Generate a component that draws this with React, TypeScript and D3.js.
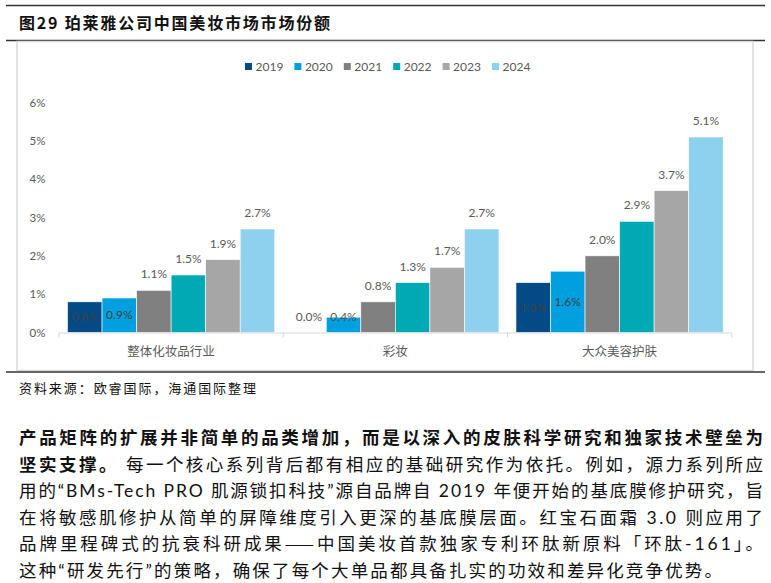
import React from 'react';
import * as d3 from 'd3';

const categories = ['整体化妆品行业', '彩妆', '大众美容护肤'];
const years = ['2019', '2020', '2021', '2022', '2023', '2024'];
const colors = ['#034a86', '#00a0e0', '#808080', '#00aab4', '#a6a6a6', '#8dd1ef'];
// share (%) per category, one array per year
const share2019 = [0.8, 0.0, 1.3];
const share2020 = [0.9, 0.4, 1.6];
const share2021 = [1.1, 0.8, 2.0];
const share2022 = [1.5, 1.3, 2.9];
const share2023 = [1.9, 1.7, 3.7];
const share2024 = [2.7, 2.7, 5.1];
const yTicks = [0, 1, 2, 3, 4, 5, 6];

const title = '图29 珀莱雅公司中国美妆市场市场份额';
const source = '资料来源：欧睿国际，海通国际整理';
const bodyLines = [
  [{ t: '产品矩阵的扩展并非简单的品类增加，而是以深入的皮肤科学研究和独家技术壁垒为', b: true }],
  [{ t: '坚实支撑。', b: true }, { t: ' 每一个核心系列背后都有相应的基础研究作为依托。例如，源力系列所应', b: false }],
  [{ t: '用的“BMs-Tech PRO 肌源锁扣科技”源自品牌自 2019 年便开始的基底膜修护研究，旨', b: false }],
  [{ t: '在将敏感肌修护从简单的屏障维度引入更深的基底膜层面。红宝石面霜 3.0 则应用了', b: false }],
  [
    { t: '品牌里程碑式的抗衰科研成果', b: false },
    { t: '——', b: false, c: true },
    { t: '中国美妆首款独家专利环肽新原料「环肽-161」。', b: false },
  ],
  [{ t: '这种“研发先行”的策略，确保了每个大单品都具备扎实的功效和差异化竞争优势。', b: false }],
];

const series = [share2019, share2020, share2021, share2022, share2023, share2024];

const W = 771;
const H = 583;
const latin = "Lato, 'Noto Sans CJK SC', sans-serif";
const cjk = "'Noto Sans CJK SC', sans-serif";

export default function App() {
  const x0 = d3.scaleBand<string>().domain(categories).range([59, 731.7]);
  const bw = x0.bandwidth();
  const x1 = d3.scaleBand<string>().domain(years).range([8.5, bw - 8.5]);
  const y = d3.scaleLinear().domain([0, 6]).range([332.5, 102.5]);

  return (
    <svg width={W} height={H} style={{ position: 'absolute', left: 0, top: 0, background: '#fff' }}>
      {/* header rules */}
      <line x1={6} x2={765} y1={5.5} y2={5.5} stroke="#333" strokeWidth={1.5} />
      <text x={19} y={29} fontFamily={cjk} fontWeight="bold" fontSize={16} fill="#111" textLength={311} lengthAdjust="spacing">
        {title}
      </text>
      <line x1={6} x2={765} y1={40.5} y2={40.5} stroke="#333" strokeWidth={1.5} />

      {/* chart frame */}
      <rect x={17} y={41.5} width={736} height={329} fill="#fff" stroke="#d9d9d9" strokeWidth={1.5} />

      {/* legend */}
      {years.map((yr, i) => (
        <g key={yr} transform={`translate(${245 + i * 49.4},0)`}>
          <rect x={0} y={63} width={7} height={7} fill={colors[i]} />
          <text x={10.5} y={71} fontFamily={latin} fontSize={12} fill="#595959">{yr}</text>
        </g>
      ))}

      {/* y axis labels */}
      {yTicks.map(t => (
        <text key={t} x={45.5} y={y(t) + 4} textAnchor="end" fontFamily={latin} fontSize={11.5} fill="#595959">
          {t}%
        </text>
      ))}

      {/* bars */}
      {categories.map((c, ci) => (
        <g key={c} transform={`translate(${x0(c)},0)`}>
          {series.map((s, si) => (
            <rect
              key={si}
              x={x1(years[si])}
              y={y(s[ci])}
              width={x1.bandwidth()}
              height={y(0) - y(s[ci])}
              fill={colors[si]}
              stroke="#fff"
              strokeWidth={0.6}
            />
          ))}
          {series.map((s, si) => {
            const inside = si < 2;
            const ly = inside ? y(Math.max(s[ci] / 2, 0.4)) + 4 : y(s[ci]) - 12;
            return (
              <text
                key={'l' + si}
                x={(x1(years[si]) as number) + x1.bandwidth() / 2}
                y={ly}
                textAnchor="middle"
                fontFamily={latin}
                fontSize={12}
                fill={inside && s[ci] > 0.5 ? '#404040' : '#595959'}
              >
                {s[ci].toFixed(1)}%
              </text>
            );
          })}
          <text x={bw / 2} y={355.5} textAnchor="middle" fontFamily={cjk} fontSize={12.5} fill="#595959">
            {c}
          </text>
        </g>
      ))}

      {/* x axis */}
      <line x1={59} x2={731.7} y1={y(0) + 0.5} y2={y(0) + 0.5} stroke="#d9d9d9" strokeWidth={1} />
      {[...categories.map(c => x0(c) as number), 731.7].map((t, i) => (
        <line key={i} x1={t} x2={t} y1={y(0)} y2={y(0) + 5} stroke="#d9d9d9" strokeWidth={1} />
      ))}

      {/* footer rule + source */}
      <line x1={6} x2={765} y1={372} y2={372} stroke="#333" strokeWidth={1.5} />
      <text x={19} y={392.5} fontFamily={cjk} fontSize={13} fill="#111" textLength={237} lengthAdjust="spacing">
        {source}
      </text>

      {/* body paragraph */}
      {bodyLines.map((line, li) => (
        <text
          key={li}
          x={19}
          y={444 + li * 26.6}
          fontFamily={latin}
          fontSize={17.5}
          fill="#111"
          textLength={li === bodyLines.length - 1 ? 703 : 744}
          lengthAdjust="spacing"
        >
          {line.map((seg: any, k) => (
            <tspan key={k} fontWeight={seg.b ? 'bold' : 'normal'} fontFamily={seg.b || seg.c ? cjk : latin}>
              {seg.t}
            </tspan>
          ))}
        </text>
      ))}
    </svg>
  );
}
